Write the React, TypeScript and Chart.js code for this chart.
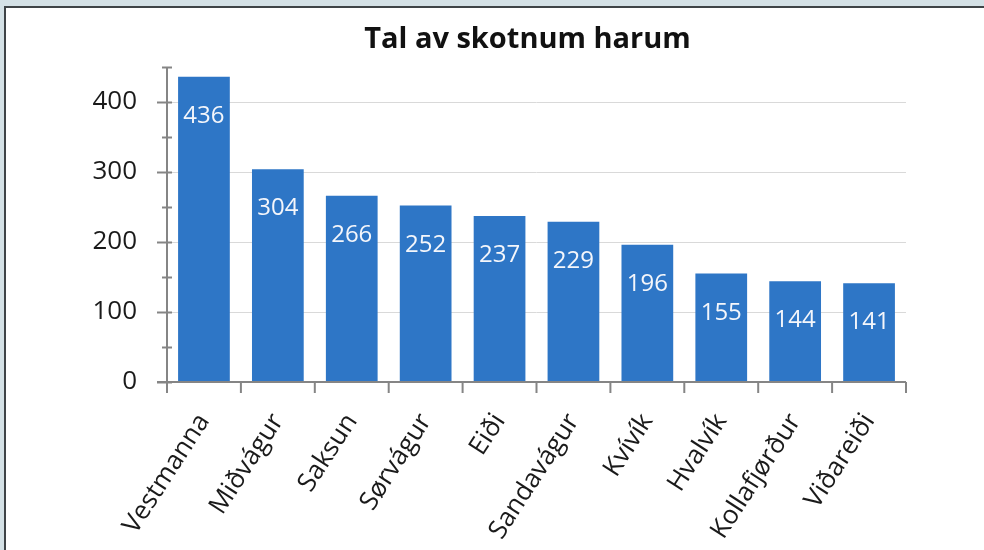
import React, { useEffect, useRef } from "react";
import { Chart, registerables } from "chart.js";

Chart.register(...registerables);

const TITLE = "Tal av skotnum harum";
const CATEGORIES = ["Vestmanna", "Miðvágur", "Saksun", "Sørvágur", "Eiði", "Sandavágur", "Kvívík", "Hvalvík", "Kollafjørður", "Viðareiði"];
const VALUES = [436, 304, 266, 252, 237, 229, 196, 155, 144, 141];
const Y_MAX = 450;
const Y_STEP = 100;
const Y_MINOR = 50;

const FONT = "'Open Sans', 'Noto Sans', sans-serif";
const BAR_COLOR = "#2e76c6";
const AXIS_COLOR = "#858585";

const titlePlugin = {
  id: "customTitle",
  afterDraw(chart: any) {
    const { ctx, chartArea } = chart;
    ctx.save();
    ctx.font = `bold 29px ${FONT}`;
    ctx.fillStyle = "#111";
    ctx.textAlign = "center";
    ctx.textBaseline = "alphabetic";
    ctx.fillText(TITLE, (chartArea.left + chartArea.right) / 2 - 9, 48);
    ctx.restore();
  },
};

const axesPlugin = {
  id: "customAxes",
  afterDatasetsDraw(chart: any) {
    const { ctx, chartArea, scales } = chart;
    const y = scales.y;
    const x = scales.x;
    ctx.save();
    ctx.strokeStyle = AXIS_COLOR;
    ctx.lineWidth = 2;
    const left = chartArea.left;
    const bottom = y.getPixelForValue(0);
    const top = y.getPixelForValue(Y_MAX);
    ctx.beginPath();
    ctx.moveTo(left, top);
    ctx.lineTo(left, bottom + 11);
    ctx.stroke();
    for (let v = 0; v <= Y_MAX; v += Y_MINOR) {
      const py = Math.round(y.getPixelForValue(v)) + 0.5;
      const major = v % Y_STEP === 0;
      ctx.beginPath();
      ctx.moveTo(left - (major ? 10 : 5), py);
      ctx.lineTo(left + 5, py);
      ctx.stroke();
    }
    ctx.beginPath();
    ctx.moveTo(left - 10, bottom);
    ctx.lineTo(chartArea.right, bottom);
    ctx.stroke();
    const n = CATEGORIES.length;
    const step = x.getPixelForTick(1) - x.getPixelForTick(0);
    for (let i = 0; i <= n; i++) {
      const px = i < n ? x.getPixelForTick(i) - step / 2 : chartArea.right;
      ctx.beginPath();
      ctx.moveTo(px, bottom);
      ctx.lineTo(px, bottom + 11);
      ctx.stroke();
    }
    ctx.restore();
  },
};

const labelPlugin = {
  id: "barLabels",
  afterDatasetsDraw(chart: any) {
    const { ctx } = chart;
    const meta = chart.getDatasetMeta(0);
    ctx.save();
    ctx.font = `24px ${FONT}`;
    ctx.fillStyle = "#f4f6fb";
    ctx.textAlign = "center";
    ctx.textBaseline = "alphabetic";
    meta.data.forEach((bar: any, i: number) => {
      ctx.fillText(String(VALUES[i]), bar.x, bar.y + 46);
    });
    ctx.restore();
  },
};

export default function App() {
  const ref = useRef<HTMLCanvasElement | null>(null);
  useEffect(() => {
    if (!ref.current) return;
    const chart = new Chart(ref.current, {
      type: "bar",
      data: {
        labels: CATEGORIES,
        datasets: [
          {
            data: VALUES,
            backgroundColor: BAR_COLOR,
            borderWidth: 0,
            barPercentage: 0.7,
            categoryPercentage: 1,
          },
        ],
      },
      options: {
        responsive: false,
        animation: false,
        layout: { padding: { top: 67, right: 78, left: 0, bottom: 0 } },
        plugins: {
          legend: { display: false },
          title: { display: false },
          tooltip: { enabled: false },
        },
        scales: {
          x: {
            grid: { display: false },
            border: { display: false },
            ticks: {
              autoSkip: false,
              minRotation: 57,
              maxRotation: 57,
              padding: 18,
              color: "#1a1a1a",
              font: { family: FONT, size: 26 },
            },
            afterFit: (s: any) => {
              s.height = 168;
            },
          },
          y: {
            min: 0,
            max: Y_MAX,
            ticks: {
              stepSize: Y_STEP,
              padding: 30,
              color: "#1a1a1a",
              font: { family: FONT, size: 26 },
            },
            afterBuildTicks: (s: any) => {
              s.ticks = s.ticks.filter((t: any) => t.value % Y_STEP === 0);
            },
            grid: {
              drawTicks: false,
              color: (c: any) => (c.tick && c.tick.value === 0 ? "rgba(0,0,0,0)" : "#d9d9d9"),
              lineWidth: 1,
            },
            border: { display: false },
            afterFit: (s: any) => {
              s.width = 167;
            },
          },
        },
      },
      plugins: [titlePlugin, axesPlugin, labelPlugin],
    });
    return () => chart.destroy();
  }, []);

  return (
    <div style={{ position: "fixed", left: 0, top: 0, width: 984, height: 550, background: "#d4e1e6", overflow: "hidden" }}>
      <div
        style={{
          position: "absolute",
          left: 4,
          top: 6,
          right: 0,
          bottom: 0,
          background: "#ffffff",
          borderLeft: "2px solid #3f4447",
          borderTop: "2px solid #3f4447",
        }}
      />
      <canvas ref={ref} width={984} height={550} style={{ position: "absolute", left: 0, top: 0, display: "block" }} />
    </div>
  );
}
